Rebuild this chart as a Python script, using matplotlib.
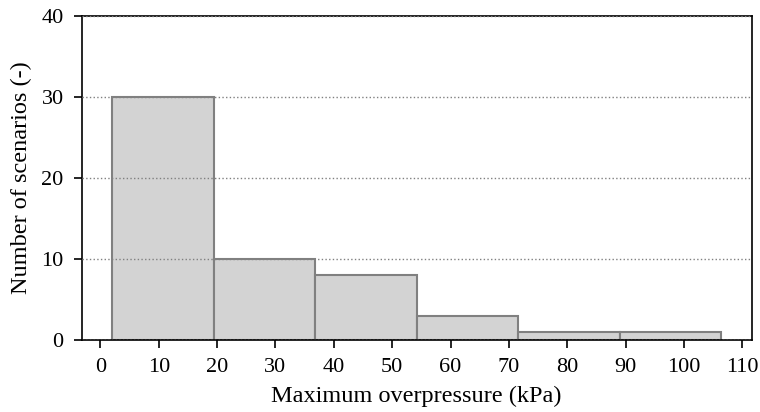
import numpy as np
import matplotlib
matplotlib.use("Agg")
import matplotlib.pyplot as plt

plt.rcParams['font.family'] = ['Liberation Serif', 'DejaVu Serif']
plt.rcParams['mathtext.fontset'] = 'stix'

# histogram of max overpressure per scenario
bin_edges = [2.0, 19.4, 36.8, 54.2, 71.6, 89.0, 106.4]
counts = [30, 10, 8, 3, 1, 1]
xticks = list(range(0, 111, 10))
yticks = [0, 10, 20, 30, 40]

fig = plt.figure(figsize=(7.6, 4.12), dpi=100)
ax = fig.add_axes([0.1075, 0.175, 0.8815, 0.787])

ax.hist(bin_edges[:-1], bins=bin_edges, weights=counts,
        facecolor='#d3d3d3', edgecolor='#808080', linewidth=1.5)

ax.set_ylim(0, 40)
ax.set_xticks(xticks)
ax.set_yticks(yticks)
ax.grid(axis='y', linestyle=':', color='gray', linewidth=1.0)
ax.set_axisbelow(False)

for sp in ax.spines.values():
    sp.set_linewidth(1.2)
ax.tick_params(direction='out', length=5.5, width=1.2, labelsize=16, pad=7.5)

ax.set_xlabel('Maximum overpressure (kPa)', fontsize=17.5, labelpad=6.5)
ax.set_ylabel('Number of scenarios (-)', fontsize=17.5, labelpad=7)

fig.savefig('out.png', dpi=100)
